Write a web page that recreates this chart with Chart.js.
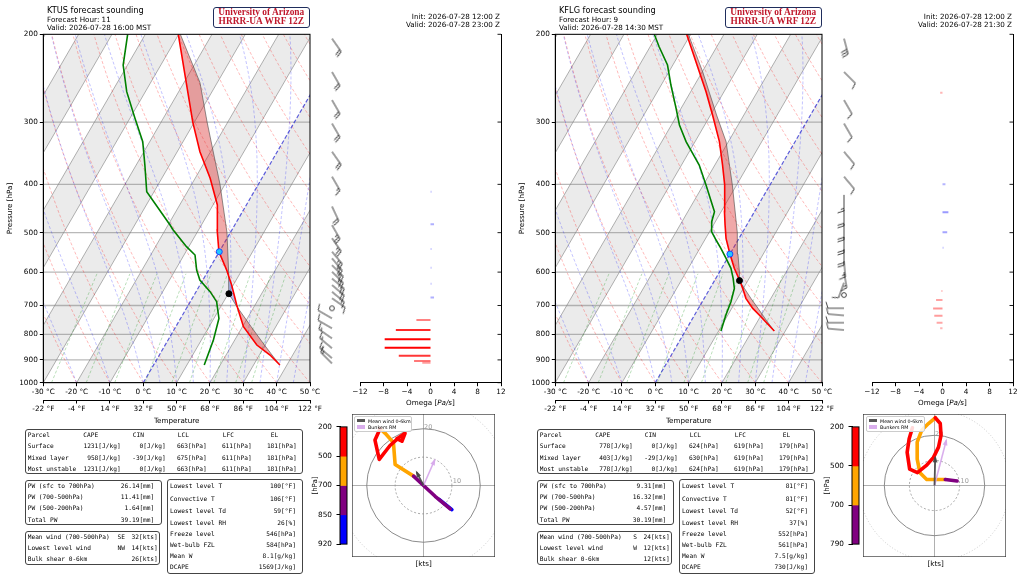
<!DOCTYPE html>
<html><head><meta charset="utf-8">
<script src="https://cdn.jsdelivr.net/npm/chart.js@4.4.1/dist/chart.umd.min.js"></script>
<style>
html,body{margin:0;padding:0;background:#fff}
#root{position:relative;width:1024px;height:577px;overflow:hidden;font-family:"DejaVu Sans",sans-serif;color:#000}
canvas{position:absolute}
.t{position:absolute;white-space:pre;line-height:1}
.box{position:absolute;border:1px solid #444;border-radius:3px;box-sizing:border-box}
</style></head><body><div id="root"></div>
<script>
// ================= DATA =================
const PRESSURE_TICKS=[200,300,400,500,600,700,800,900,1000];
const TEMP_TICKS_C=[-30,-20,-10,0,10,20,30,40,50];
const OMEGA_TICKS=[-12,-8,-4,0,4,8,12];

// ---- KTUS (left) ----
const ktusHeader=['KTUS forecast sounding','Forecast Hour: 11','Valid: 2026-07-28 16:00 MST'];
const ktusInitValid=['Init: 2026-07-28 12:00 Z','Valid: 2026-07-28 23:00 Z'];
const ktusEnvP=[921.6,880,840.3,772,698.4,636.8,594.2,546,494,440,389,344,300,245,200];
const ktusEnvT=[37.9,33.2,27.5,20.3,14.5,9.5,5.4,-0.1,-4.4,-8.7,-15.5,-23.2,-30.5,-40.3,-50.1];
const ktusDewP=[921.6,821,743,687.8,656.7,622.3,594.2,554.4,533.5,493.9,482.7,413.8,365.8,328.4,294.8,260.7,230.5,200];
const ktusDewT=[15.2,13.6,11.5,7.9,4.2,-0.9,-3.6,-6.7,-10.7,-17.6,-19.4,-32.2,-37.4,-42.1,-48.5,-55.6,-61.3,-65.3];
const ktusParP=[921.6,880,840.3,800,772,700,663,611,600,500,400,300,250,200];
const ktusParT=[37.9,33.8,29.8,25.6,22.6,14.4,10.2,7.0,6.4,-1.0,-11.5,-26.2,-35.2,-49.5];
const ktusLclP=663, ktusLclT=10.2, ktusFrzP=546, ktusFrzT=0;
const ktusWindP=[204,238,271,302,344,386,443,483,513,546,563,581,599,618,637,657,677,709,743,778,815,853,893,915];
const ktusWindDir=[145,150,150,150,145,150,155,150,145,140,140,135,135,130,130,130,125,0,300,300,305,310,310,315];
const ktusWindSpd=[20,20,20,20,20,15,20,25,25,25,25,25,25,20,20,15,10,0,10,10,15,15,15,15];
const ktusOmegaP=[413.8,481,539,588,633,675,748.6,784,818.5,850.7,882.7,904.7,911.7];
const ktusOmega=[0.2,0.6,0.2,0.2,0.2,0.6,-2.4,-5.9,-7.8,-7.8,-5.4,-2.8,-1.4];
const ktusHodoBlueU=[10.0,5.5], ktusHodoBlueV=[-8.5,-4.9];
const ktusHodoPurpleU=[9.4,4.1,0,-3.5], ktusHodoPurpleV=[-8.2,-3.8,0,3.3];
const ktusHodoOrangeU=[-3.5,-10,-10.6,-13.5,-15.3], ktusHodoOrangeV=[3.3,7.4,15.1,18.4,20];
const ktusHodoRedU=[-15.3,-17.1,-15.6,-11.8,-8.8,-6.5,-7.6,-9.4], ktusHodoRedV=[20,16,9.2,14.1,16.8,18.4,15.6,16.5];
const ktusMeanWindUV=[-2.4,4.7], ktusBunkersUV=[3.9,8.9];
const ktusCbarLabels=['200','500','700','850','920'];
const ktusCbarColors=['#ff0000','#ffa500','#800080','#0000ff'];
const ktusCape=['1231[J/kg]','958[J/kg]','1231[J/kg]'];
const ktusCin=['0[J/kg]','-39[J/kg]','0[J/kg]'];
const ktusLcl=['663[hPa]','675[hPa]','663[hPa]'];
const ktusLfc=['611[hPa]','611[hPa]','611[hPa]'];
const ktusEl=['181[hPa]','181[hPa]','181[hPa]'];
const ktusPw=['26.14[mm]','11.41[mm]','1.64[mm]','39.19[mm]'];
const ktusWindDirTxt=['SE','NW',''];
const ktusWindTxt=['32[kts]','14[kts]','26[kts]'];
const ktusMisc=['100[°F]','106[°F]','59[°F]','26[%]','546[hPa]','584[hPa]','8.1[g/kg]','1569[J/kg]'];

// ---- KFLG (right) ----
const kflgHeader=['KFLG forecast sounding','Forecast Hour: 9','Valid: 2026-07-28 14:30 MST'];
const kflgInitValid=['Init: 2026-07-28 12:00 Z','Valid: 2026-07-28 21:30 Z'];
const kflgEnvP=[787.6,731.5,709.4,677.3,646.7,625.2,589.6,551.8,513.3,482.7,453.8,401,365.8,328.4,290.3,260.7,237.7,216.7,200];
const kflgEnvT=[26.7,19.4,16.3,12.5,9.8,7.7,3.8,0.0,-3.9,-6.5,-9.0,-13.6,-17.7,-22.7,-29.4,-35.4,-40.9,-46.4,-51.2];
const kflgDewP=[787.6,731.5,687.8,646.7,617.5,589.6,563,537.6,517.3,497.7,475.3,453.8,401,365.8,328.4,304,281.5,252.8,230.5,211.8,200];
const kflgDewT=[10.7,9.4,8.6,7.3,5.2,2.8,-0.4,-3.7,-6.6,-9.4,-11.1,-12.0,-19.2,-24.7,-32.7,-37.6,-41.5,-47.1,-51.6,-57.3,-60.9];
const kflgParP=[787.6,750,709.4,677.3,646.7,624,600,551.8,500,401,328.4,290.3,237.7,200];
const kflgParT=[26.7,22.5,17.9,14.0,10.3,7.4,6.0,2.4,-1.5,-11.3,-20.7,-28.2,-39.9,-50.7];
const kflgLclP=624, kflgLclT=7.5, kflgFrzP=552, kflgFrzT=0;
const kflgWindP=[204,238,271,302,344,386,420,450,480,510,540,570,600,630,667,709,733,758,784];
const kflgWindDir=[165,135,150,150,140,140,180,180,180,180,180,175,170,200,0,270,275,270,275];
const kflgWindSpd=[30,10,10,10,10,10,15,20,20,20,20,15,15,10,0,10,12,12,12];
const kflgOmegaP=[262,400,455,499,536,654.7,682.5,709.4,733.7,757.9,778];
const kflgOmega=[-0.4,0.5,1.0,0.8,0.2,-0.2,-1.1,-1.6,-1.4,-1.0,-0.4];
const kflgHodoPurpleU=[9.0,4.3], kflgHodoPurpleV=[1.8,2.4];
const kflgHodoOrangeU=[4.3,-3.1,-5.8,-6.9,-6.9,-5.1,-2.4,0.3], kflgHodoOrangeV=[2.4,2.4,5.1,10.5,17.3,22,24.7,27];
const kflgHodoRedU=[0.3,2.3,2.6,1.6,-0.4,-3.1,-6.8,-9.9,-10.9,-10.1,-8.8], kflgHodoRedV=[27,24.7,20,15.3,11.2,8.1,5.1,6.5,13.2,18.6,23];
const kflgMeanWindUV=[0.3,11.2], kflgBunkersUV=[4.7,18];
const kflgCbarLabels=['200','500','700','790'];
const kflgCbarColors=['#ff0000','#ffa500','#800080'];
const kflgCape=['778[J/kg]','403[J/kg]','778[J/kg]'];
const kflgCin=['0[J/kg]','-29[J/kg]','0[J/kg]'];
const kflgLcl=['624[hPa]','630[hPa]','624[hPa]'];
const kflgLfc=['619[hPa]','619[hPa]','619[hPa]'];
const kflgEl=['179[hPa]','179[hPa]','179[hPa]'];
const kflgPw=['9.31[mm]','16.32[mm]','4.57[mm]','30.19[mm]'];
const kflgWindDirTxt=['S','W',''];
const kflgWindTxt=['24[kts]','12[kts]','12[kts]'];
const kflgMisc=['81[°F]','81[°F]','52[°F]','37[%]','552[hPa]','561[hPa]','7.5[g/kg]','730[J/kg]'];

// shared labels
const BRAND=['University of Arizona','HRRR-UA WRF 12Z'];
const PARCEL_HEAD=['Parcel','CAPE','CIN','LCL','LFC','EL'];
const PARCEL_ROWS=['Surface','Mixed layer','Most unstable'];
const PW_LABELS=['PW (sfc to 700hPa)','PW (700-500hPa)','PW (500-200hPa)','Total PW'];
const WIND_LABELS=['Mean wind (700-500hPa)','Lowest level wind','Bulk shear 0-6km'];
const MISC_LABELS=['Lowest level T','Convective T','Lowest level Td','Lowest level RH','Freeze level','Wet-bulb FZL','Mean W','DCAPE'];
const HODO_LEGEND=['Mean wind 0-6km','Bunkers RM'];

// ================= SETUP =================
const root=document.getElementById('root');
Chart.defaults.font.family="'DejaVu Sans', sans-serif";
Chart.defaults.font.size=7.3;
Chart.defaults.color='#000';
Chart.defaults.animation=false;
Chart.defaults.events=[];
Chart.defaults.plugins.legend.display=false;
Chart.defaults.plugins.tooltip.enabled=false;

const K_SKEW=60.6/Math.log(5); // skew (°C per ln(1000/p)) giving the 30° isotherm tilt
const skewT=(t,p)=>t+K_SKEW*Math.log(1000/p);

function mkCanvas(x,y,w,h){const c=document.createElement('canvas');c.width=w;c.height=h;
  Object.assign(c.style,{left:x+'px',top:y+'px',width:w+'px',height:h+'px'});root.appendChild(c);return c;}
function txt(s,x,y,o={}){const d=document.createElement('div');d.className='t';
  if(o.html)d.innerHTML=s;else d.textContent=s;
  const ax=o.align==='right'?'-100%':o.align==='center'?'-50%':'0';
  d.style.left=x+'px';d.style.top=y+'px';
  d.style.transform=`translate(${ax},-50%)`+(o.rot?` rotate(${o.rot}deg)`:'')+(o.scale?` scale(${o.scale})`:'');
  if(o.origin)d.style.transformOrigin=o.origin;
  d.style.fontSize=(o.size||7.2)+'px';
  if(o.family)d.style.fontFamily=o.family;if(o.weight)d.style.fontWeight=o.weight;if(o.color)d.style.color=o.color;
  root.appendChild(d);return d;}
function box(x1,y1,x2,y2,extra){const d=document.createElement('div');d.className='box';
  Object.assign(d.style,{left:x1+'px',top:y1+'px',width:(x2-x1)+'px',height:(y2-y1)+'px'},extra||{});root.appendChild(d);return d;}

const frame=(color,lw)=>({id:'frame',afterDraw(chart){const {ctx,chartArea:a}=chart;ctx.save();ctx.strokeStyle=color;ctx.lineWidth=lw;
  ctx.strokeRect(a.left,a.top,a.right-a.left,a.bottom-a.top);ctx.restore();}});

// ---- thermodynamic reference lines (background) ----
const PGRID=[];for(let i=0;i<=80;i++)PGRID.push(1000*Math.pow(0.2,i/80));
function esat(Tk){const tc=Tk-273.15;return 6.112*Math.exp(17.67*tc/(tc+243.5));}
function dTdp(p,T){const Rd=287.04,Cp=1005.7,Lv=2.501e6,eps=0.622;const es=esat(T);
  const rs=Math.min(eps*es/Math.max(p-es,1),0.2);
  return (Rd*T+Lv*rs)/(p*(Cp+Lv*Lv*rs*eps/(Rd*T*T)));}
function moistAdiabat(t0){let T=t0+273.15;const out=[[1000,t0]];
  for(let i=0;i<PGRID.length-1;i++){const p=PGRID[i],p2=PGRID[i+1],dp=p2-p;
    const k1=dTdp(p,T);const k2=dTdp(p+dp/2,T+k1*dp/2);T+=k2*dp;out.push([p2,T-273.15]);}
  return out;}
function interpLogP(ps,ts,p){if(p>ps[0]+1e-6||p<ps[ps.length-1]-1e-6)return null;
  for(let i=0;i<ps.length-1;i++){if(p<=ps[i]+1e-6&&p>=ps[i+1]-1e-6){const f=Math.log(ps[i]/p)/Math.log(ps[i]/ps[i+1]);return ts[i]+f*(ts[i+1]-ts[i]);}}
  return null;}

function skewBg(envP,envT,parP,parT){return {id:'skewbg',beforeDatasetsDraw(chart){
  const {ctx,chartArea:a,scales:{x,y}}=chart;
  const X=(t,p)=>x.getPixelForValue(skewT(t,p)),Y=p=>y.getPixelForValue(p);
  ctx.save();ctx.beginPath();ctx.rect(a.left,a.top,a.right-a.left,a.bottom-a.top);ctx.clip();
  // shaded isotherm bands
  ctx.fillStyle='rgba(128,128,128,0.16)';
  for(let t=-140;t<=40;t+=20){ctx.beginPath();ctx.moveTo(X(t,1000),Y(1000));ctx.lineTo(X(t+10,1000),Y(1000));
    ctx.lineTo(X(t+10,200),Y(200));ctx.lineTo(X(t,200),Y(200));ctx.closePath();ctx.fill();}
  // isotherms
  ctx.strokeStyle='rgba(100,100,100,0.55)';ctx.lineWidth=0.9;
  for(let t=-140;t<=50;t+=10){if(t===0)continue;ctx.beginPath();ctx.moveTo(X(t,1000),Y(1000));ctx.lineTo(X(t,200),Y(200));ctx.stroke();}
  // pressure grid
  ctx.strokeStyle='rgba(128,128,128,0.55)';ctx.lineWidth=1.3;
  PRESSURE_TICKS.forEach(p=>{ctx.beginPath();ctx.moveTo(a.left,Y(p));ctx.lineTo(a.right,Y(p));ctx.stroke();});
  const path=(pts)=>{ctx.beginPath();pts.forEach(([p,t],i)=>{const px=X(t,p),py=Y(p);i?ctx.lineTo(px,py):ctx.moveTo(px,py);});ctx.stroke();};
  ctx.lineWidth=0.8;ctx.setLineDash([3,2]);
  // dry adiabats
  ctx.strokeStyle='rgba(255,0,0,0.35)';
  for(let t0=-30;t0<=250;t0+=10){const th=t0+273.15;path(PGRID.map(p=>[p,th*Math.pow(p/1000,0.2857)-273.15]));}
  // moist adiabats
  ctx.strokeStyle='rgba(0,0,255,0.3)';
  [-30,-20,-10,0,5,10,15,20,25,30,35,40,45,50,55,60].forEach(t0=>path(moistAdiabat(t0)));
  // mixing ratio lines
  ctx.strokeStyle='rgba(0,140,0,0.35)';
  [0.0004,0.001,0.002,0.004,0.007,0.01,0.016,0.024,0.032].forEach(w=>{
    path(PGRID.filter(p=>p>=600).map(p=>{const e=p*w/(0.622+w);const l=Math.log(e/6.112);return [p,243.5*l/(17.67-l)];}));});
  // 0 °C isotherm
  ctx.strokeStyle='rgba(40,40,210,0.75)';ctx.lineWidth=1.2;ctx.setLineDash([4,2]);
  ctx.beginPath();ctx.moveTo(X(0,1000),Y(1000));ctx.lineTo(X(0,200),Y(200));ctx.stroke();
  ctx.setLineDash([]);
  // CAPE / CIN shading between parcel and environment
  const pBot=Math.min(envP[0],parP[0]),pTop=Math.max(envP[envP.length-1],parP[parP.length-1]);
  const N=300,pos=new Path2D(),neg=new Path2D();
  for(let i=0;i<N;i++){const p1=pBot*Math.pow(pTop/pBot,i/N),p2=pBot*Math.pow(pTop/pBot,(i+1)/N);
    const e1=interpLogP(envP,envT,p1),e2=interpLogP(envP,envT,p2),q1=interpLogP(parP,parT,p1),q2=interpLogP(parP,parT,p2);
    if(e1===null||e2===null||q1===null||q2===null)continue;
    const tgt=((q1+q2)-(e1+e2))>=0?pos:neg;
    tgt.moveTo(X(q1,p1),Y(p1));tgt.lineTo(X(q2,p2),Y(p2));tgt.lineTo(X(e2,p2),Y(p2));tgt.lineTo(X(e1,p1),Y(p1));tgt.closePath();}
  ctx.fillStyle='rgba(215,30,30,0.38)';ctx.fill(pos);
  ctx.fillStyle='rgba(40,60,200,0.35)';ctx.fill(neg);
  ctx.restore();}};}

function skewChart(canvas,envP,envT,dewP,dewT,parP,parT,lclP,lclT,frzP,frzT){
  const line=(ps,ts)=>ps.map((p,i)=>({x:skewT(ts[i],p),y:p}));
  const ticksC=s=>{s.ticks=TEMP_TICKS_C.map(v=>({value:v}));};
  return new Chart(canvas,{type:'scatter',data:{datasets:[
    {data:[{x:skewT(frzT,frzP),y:frzP}],pointRadius:3,pointBackgroundColor:'#22c8ff',pointBorderColor:'#1846ff',pointBorderWidth:1},
    {data:[{x:skewT(lclT,lclP),y:lclP}],pointRadius:3,pointBackgroundColor:'#000',pointBorderColor:'#000'},
    {data:line(envP,envT),showLine:true,borderColor:'#ff0000',borderWidth:1.6,pointRadius:0},
    {data:line(dewP,dewT),showLine:true,borderColor:'#008000',borderWidth:1.6,pointRadius:0},
    {data:line(parP,parT),showLine:true,borderColor:'rgba(70,70,70,0.75)',borderWidth:0.8,pointRadius:0}]},
   options:{responsive:false,layout:{padding:{top:34.3,right:40,left:0,bottom:0}},
    scales:{
     x:{type:'linear',position:'bottom',min:-30,max:50,weight:0,afterBuildTicks:ticksC,afterFit:s=>{s.height=17.3;},
        ticks:{callback:v=>v+' °C',maxRotation:0,autoSkip:false,padding:1.5},
        grid:{drawOnChartArea:false,tickLength:3.5,color:'#000'},border:{color:'#000'}},
     xf:{axis:'x',type:'linear',position:'bottom',min:-30,max:50,weight:1,afterBuildTicks:ticksC,afterFit:s=>{s.height=25;},
        ticks:{callback:v=>Math.round(v*1.8+32)+' °F',maxRotation:0,autoSkip:false,padding:1.5},
        grid:{drawOnChartArea:false,tickLength:3.5,color:'#000'},border:{color:'#000'},
        title:{display:true,text:'Temperature',padding:{top:1,bottom:0},font:{size:7.2}}},
     y:{type:'logarithmic',position:'left',min:200,max:1000,reverse:true,
        afterBuildTicks:s=>{s.ticks=PRESSURE_TICKS.map(v=>({value:v}));},afterFit:s=>{s.width=43.3;},
        ticks:{callback:v=>String(v),padding:2},grid:{drawOnChartArea:false,tickLength:3.5,color:'#000'},border:{color:'#000'},
        title:{display:true,text:'Pressure [hPa]',padding:{top:5.5,bottom:2},font:{size:7.2}}}}},
   plugins:[skewBg(envP,envT,parP,parT),frame('#000',1)]});}

// ---- wind barbs ----
function barbImage(spd){const L=16,S=2*L+6;const c=document.createElement('canvas');c.width=S;c.height=S;
  const g=c.getContext('2d');g.translate(S/2,S/2);g.strokeStyle='#222';g.lineWidth=0.85;
  if(spd<2.5){g.beginPath();g.arc(0,0,2.4,0,2*Math.PI);g.stroke();return c;}
  let s=Math.round(spd/5)*5;const full=Math.floor(s/10),half=(s%10)>=5;
  const H=0.4*L,W=0.25*L,sp=0.16*L;
  g.beginPath();g.moveTo(0,0);g.lineTo(0,-L);
  let d=L;for(let i=0;i<full;i++){g.moveTo(0,-d);g.lineTo(H,-d-W/2);d-=sp;}
  if(half){if(full===0)d-=sp;g.moveTo(0,-d);g.lineTo(H/2,-d-W/4);}
  g.stroke();return c;}
function barbChart(canvas,ps,dirs,spds){const imgs=spds.map(barbImage);
  return new Chart(canvas,{type:'scatter',data:{datasets:[{data:ps.map(p=>({x:0.5,y:p})),clip:false,pointRadius:1,
    pointStyle:c=>imgs[c.dataIndex],pointRotation:c=>dirs[c.dataIndex]}]},
   options:{responsive:false,layout:{padding:{top:34.3,bottom:47.3,left:0,right:0}},
    scales:{x:{display:false,min:0,max:1},y:{display:false,type:'logarithmic',min:200,max:1000,reverse:true}}}});}

// ---- omega ----
function omegaColor(w){const a=Math.min(1,0.25+0.1*Math.abs(w));
  return w<0?`rgba(255,0,0,${a})`:`rgba(40,40,255,${Math.min(1,0.22+0.25*w)})`;}
function omegaChart(canvas,ps,ws){const pts=[];ps.forEach((p,i)=>{pts.push({x:0,y:p},{x:ws[i],y:p},{x:0,y:null});});
  return new Chart(canvas,{type:'scatter',data:{datasets:[{data:pts,showLine:true,spanGaps:false,pointRadius:0,borderWidth:2,
     borderColor:'red',segment:{borderColor:c=>omegaColor(c.p1.parsed.x)}}]},
   options:{responsive:false,layout:{padding:{top:34.3,left:10,right:0,bottom:0}},
    scales:{x:{type:'linear',min:-12,max:12,afterBuildTicks:s=>{s.ticks=OMEGA_TICKS.map(v=>({value:v}));},afterFit:s=>{s.height=29.3;},
       ticks:{callback:v=>v<0?'\u2212'+Math.abs(v):String(v),maxRotation:0,autoSkip:false,padding:1.5},
       grid:{drawOnChartArea:false,tickLength:3.5,color:'#000'},border:{color:'#000'}},
     y:{type:'logarithmic',position:'right',min:200,max:1000,reverse:true,afterFit:s=>{s.width=11;},
       ticks:{display:false},grid:{drawOnChartArea:false,drawTicks:false},border:{color:'#000'}}}},
   plugins:[{id:'inticks',afterDraw(chart){const {ctx,chartArea:a,scales:{y}}=chart;ctx.save();ctx.strokeStyle='#000';ctx.lineWidth=0.9;
     PRESSURE_TICKS.forEach(p=>{const py=y.getPixelForValue(p);ctx.beginPath();ctx.moveTo(a.right-3.5,py);ctx.lineTo(a.right,py);ctx.stroke();});ctx.restore();}}]});}

// ---- hodograph ----
const hodoBg={id:'hodobg',beforeDatasetsDraw(chart){const {ctx,chartArea:a,scales:{x,y}}=chart;
  const cx=x.getPixelForValue(0),cy=y.getPixelForValue(0),r=k=>Math.abs(x.getPixelForValue(k)-cx);
  ctx.save();ctx.beginPath();ctx.rect(a.left,a.top,a.right-a.left,a.bottom-a.top);ctx.clip();
  ctx.strokeStyle='rgba(150,150,150,0.75)';ctx.lineWidth=1;
  ctx.beginPath();ctx.moveTo(a.left,cy);ctx.lineTo(a.right,cy);ctx.moveTo(cx,a.top);ctx.lineTo(cx,a.bottom);ctx.stroke();
  [[10,[2,2],'rgba(140,140,140,0.75)'],[20,[],'rgba(120,120,120,0.85)'],[30,[1,2],'rgba(170,170,170,0.6)']].forEach(([k,dash,col])=>{
    ctx.setLineDash(dash);ctx.strokeStyle=col;ctx.beginPath();ctx.arc(cx,cy,r(k),0,2*Math.PI);ctx.stroke();});
  ctx.setLineDash([]);ctx.fillStyle='rgba(150,150,150,0.95)';ctx.font="6.5px 'DejaVu Sans'";ctx.textBaseline='bottom';
  ctx.fillText('10',x.getPixelForValue(10)+1,cy-0.5);ctx.fillText('20',cx+0.5,y.getPixelForValue(20)+2);
  ctx.restore();},
 afterDatasetsDraw(chart){const {ctx}=chart;chart.data.datasets.forEach((ds,i)=>{if(!ds.arrow)return;
   const m=chart.getDatasetMeta(i).data;const p0=m[0],p1=m[m.length-1];const ang=Math.atan2(p1.y-p0.y,p1.x-p0.x),h=5.5;
   ctx.save();ctx.fillStyle=ds.borderColor;ctx.beginPath();ctx.moveTo(p1.x+Math.cos(ang)*2,p1.y+Math.sin(ang)*2);
   ctx.lineTo(p1.x-h*Math.cos(ang-0.45),p1.y-h*Math.sin(ang-0.45));ctx.lineTo(p1.x-h*Math.cos(ang+0.45),p1.y-h*Math.sin(ang+0.45));
   ctx.closePath();ctx.fill();ctx.restore();});}};
function hodoChart(canvas,R,segs,mean,bunk){
  const ds=segs.map(([u,v,col])=>({data:u.map((uu,i)=>({x:uu,y:v[i]})),showLine:true,borderColor:col,borderWidth:3.6,
     pointRadius:0,borderCapStyle:'round',borderJoinStyle:'round'}));
  ds.unshift({data:[{x:0,y:0},{x:bunk[0],y:bunk[1]}],showLine:true,borderColor:'rgba(215,170,235,0.95)',borderWidth:1.6,pointRadius:0,arrow:true});
  ds.unshift({data:[{x:0,y:0},{x:mean[0],y:mean[1]}],showLine:true,borderColor:'rgba(70,70,70,0.9)',borderWidth:1.8,pointRadius:0,arrow:true});
  return new Chart(canvas,{type:'scatter',data:{datasets:ds},
   options:{responsive:false,layout:{padding:0},scales:{x:{display:false,min:-R,max:R},y:{display:false,min:-R,max:R}}},
   plugins:[hodoBg,frame('#333',1.3)]});}

// ---- colorbar ----
function colorbar(canvas,labels,colors){const n=colors.length;
  return new Chart(canvas,{type:'bar',data:{labels:['cb'],datasets:colors.map((c,i)=>({data:[[i,i+1]],backgroundColor:c,
     barPercentage:1,categoryPercentage:1,grouped:false,borderWidth:0}))},
   options:{responsive:false,layout:{padding:{top:7,bottom:6.3,right:3,left:0}},
    scales:{x:{display:false},y:{type:'linear',min:0,max:n,reverse:true,
      afterBuildTicks:s=>{s.ticks=labels.map((_,i)=>({value:i}));},afterFit:s=>{s.width=32;},
      ticks:{callback:v=>labels[v],padding:4.5},grid:{drawOnChartArea:false,tickLength:3.5,color:'#000'},border:{color:'#000'},
      title:{display:true,text:'[hPa]',padding:{top:2.8,bottom:2},font:{size:7}}}}},
   plugins:[frame('#000',1)]});}

// ---- text panels ----
const MONO="'DejaVu Sans Mono', monospace",MS=6.2;
function headerText(off,hdr,iv){
  txt(hdr[0],off+47,10,{size:8.2});txt(hdr[1],off+47,20,{size:7.2});txt(hdr[2],off+47,28,{size:7.2});
  txt(iv[0],off+500,16.8,{size:7.2,align:'right'});txt(iv[1],off+500,25,{size:7.2,align:'right'});
  box(off+212.7,6.7,off+310,27.7,{border:'1.5px solid #1f2d5c',borderRadius:'3px'});
  const o={size:9.4,align:'center',family:"'Liberation Serif', serif",weight:'bold',color:'#c0182c'};
  txt(BRAND[0],off+261.3,12.6,o);txt(BRAND[1],off+261.3,21.6,o);}
function tables(off,cape,cin,lcl,lfc,el,pw,wdir,wtxt,misc){
  const o={family:MONO,size:MS},r={family:MONO,size:MS,align:'right'};
  box(off+25,429.3,off+303.3,474.3);
  const hy=[435,446.3,457.7,469],colL=[27.7,83.3,132.7,177.7,222.7,270.7],colR=[0,120.7,165.7,206.7,251.7,296.7];
  PARCEL_HEAD.forEach((h,i)=>txt(h,off+colL[i],hy[0],o));
  PARCEL_ROWS.forEach((row,j)=>{txt(row,off+27.7,hy[j+1],o);
    [cape,cin,lcl,lfc,el].forEach((arr,k)=>txt(arr[j],off+colR[k+1],hy[j+1],r));});
  box(off+25,480,off+161.7,525);
  [485.7,497,508.3,519.7].forEach((yy,i)=>{txt(PW_LABELS[i],off+27.7,yy,o);txt(pw[i],off+154.3,yy,r);});
  box(off+25,531,off+160,565);
  [536.7,547.7,559].forEach((yy,i)=>{txt(WIND_LABELS[i],off+27.7,yy,o);txt(wdir[i],off+125,yy,r);txt(wtxt[i],off+157.7,yy,r);});
  box(off+166.7,479.3,off+303.3,574);
  [485.7,498.7,510.7,522.7,534,545.3,556.3,567.3].forEach((yy,i)=>{txt(MISC_LABELS[i],off+170,yy,o);txt(misc[i],off+296,yy,r);});}
function hodoLegend(x,y){const d=box(x,y,x+58.5,y+15.5,{border:'0.8px solid #ccc',borderRadius:'2px',background:'rgba(255,255,255,0.85)'});
  const sw=(yy,col)=>{const s=document.createElement('div');Object.assign(s.style,{position:'absolute',left:(x+3)+'px',top:(yy-1.8)+'px',width:'8px',height:'3.6px',background:col});root.appendChild(s);};
  sw(y+4.5,'#555');sw(y+11.2,'rgba(215,170,235,0.95)');
  txt(HODO_LEGEND[0],x+14,y+4.6,{size:6,scale:0.8,origin:'left center'});
  txt(HODO_LEGEND[1],x+14,y+11.2,{size:6,scale:0.8,origin:'left center'});}

// ================= BUILD =================
function panel(off,S){
  skewChart(mkCanvas(off,0,350,425),S.envP,S.envT,S.dewP,S.dewT,S.parP,S.parT,S.lclP,S.lclT,S.frzP,S.frzT);
  barbChart(mkCanvas(off+312,0,40,430),S.windP,S.windDir,S.windSpd);
  omegaChart(mkCanvas(off+350,0,162,412),S.omP,S.om);
  txt('Omega [<i>Pa/s</i>]',off+430.5,402.8,{html:true,align:'center',size:7.2});
  colorbar(mkCanvas(off+308,418,42,135),S.cbL,S.cbC);
  hodoChart(mkCanvas(off+352+(off?-1:0),414,143,143),S.R,S.segs,S.mean,S.bunk);
  hodoLegend(off+353.5+(off?0.5:0),416);
  txt('[kts]',off+423.7,564,{align:'center',size:7.2});
  headerText(off,S.hdr,S.iv);
  tables(off,...S.tab);}

panel(0,{envP:ktusEnvP,envT:ktusEnvT,dewP:ktusDewP,dewT:ktusDewT,parP:ktusParP,parT:ktusParT,lclP:ktusLclP,lclT:ktusLclT,frzP:ktusFrzP,frzT:ktusFrzT,
  windP:ktusWindP,windDir:ktusWindDir,windSpd:ktusWindSpd,omP:ktusOmegaP,om:ktusOmega,cbL:ktusCbarLabels,cbC:ktusCbarColors,R:25.2,
  segs:[[ktusHodoPurpleU,ktusHodoPurpleV,'#800080'],[ktusHodoBlueU,ktusHodoBlueV,'#0000ff'],[ktusHodoRedU,ktusHodoRedV,'#ff0000'],[ktusHodoOrangeU,ktusHodoOrangeV,'#ffa500']],
  mean:ktusMeanWindUV,bunk:ktusBunkersUV,hdr:ktusHeader,iv:ktusInitValid,
  tab:[ktusCape,ktusCin,ktusLcl,ktusLfc,ktusEl,ktusPw,ktusWindDirTxt,ktusWindTxt,ktusMisc]});
panel(512,{envP:kflgEnvP,envT:kflgEnvT,dewP:kflgDewP,dewT:kflgDewT,parP:kflgParP,parT:kflgParT,lclP:kflgLclP,lclT:kflgLclT,frzP:kflgFrzP,frzT:kflgFrzT,
  windP:kflgWindP,windDir:kflgWindDir,windSpd:kflgWindSpd,omP:kflgOmegaP,om:kflgOmega,cbL:kflgCbarLabels,cbC:kflgCbarColors,R:28.5,
  segs:[[kflgHodoPurpleU,kflgHodoPurpleV,'#800080'],[kflgHodoRedU,kflgHodoRedV,'#ff0000'],[kflgHodoOrangeU,kflgHodoOrangeV,'#ffa500']],
  mean:kflgMeanWindUV,bunk:kflgBunkersUV,hdr:kflgHeader,iv:kflgInitValid,
  tab:[kflgCape,kflgCin,kflgLcl,kflgLfc,kflgEl,kflgPw,kflgWindDirTxt,kflgWindTxt,kflgMisc]});
</script></body></html>
